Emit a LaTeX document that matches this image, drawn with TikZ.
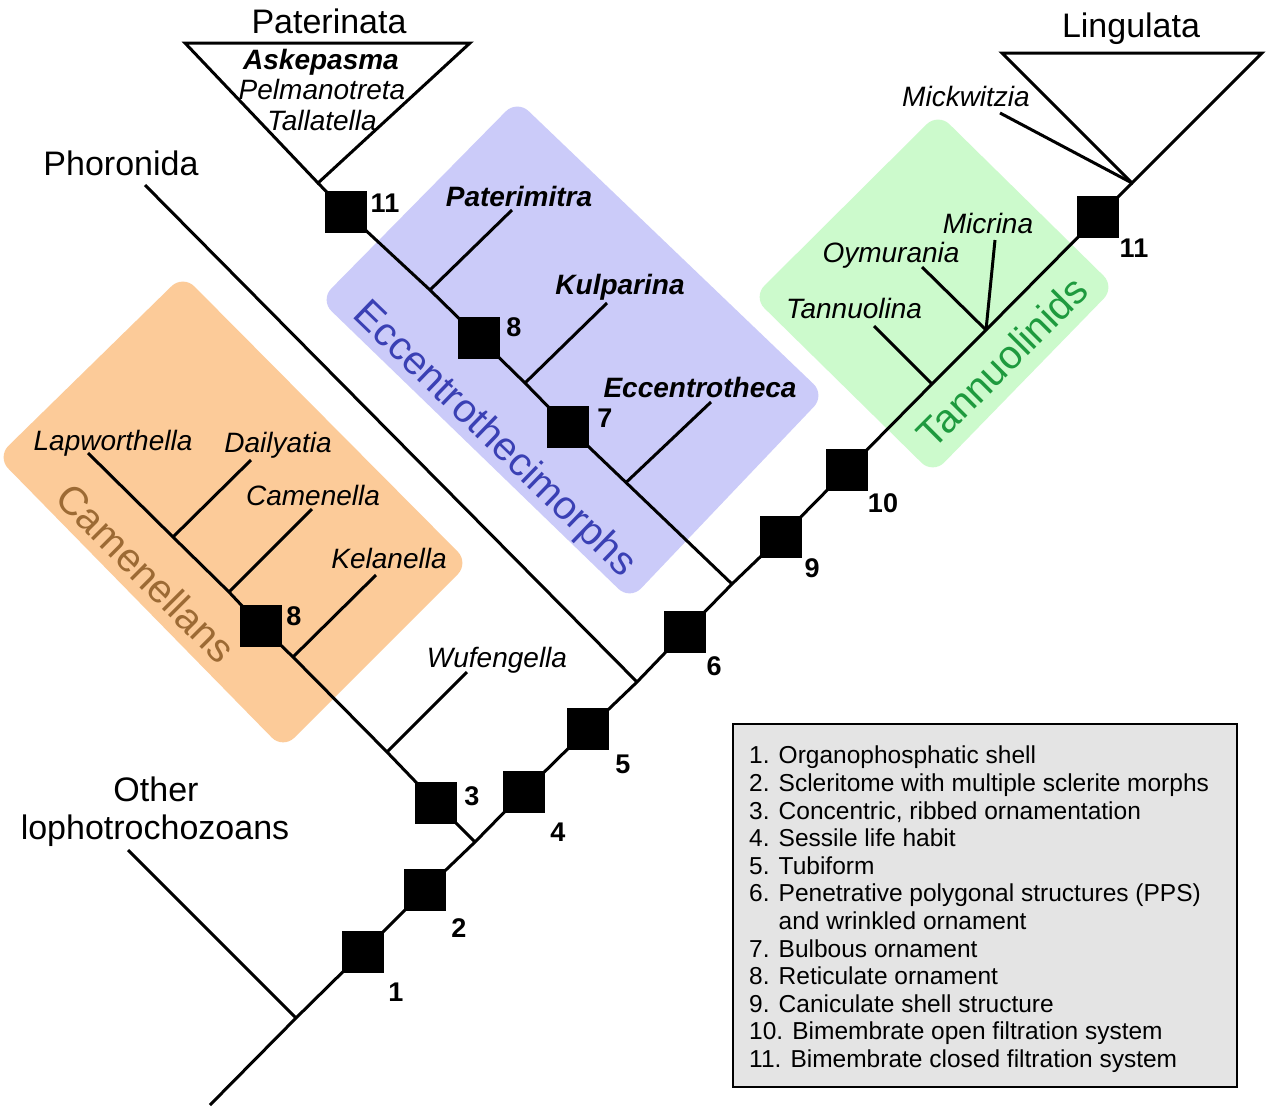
\documentclass[tikz,border=0pt]{standalone}
\usepackage{fontspec}
\setmainfont{Liberation Sans}
\definecolor{orangefill}{HTML}{FCCB99}
\definecolor{bluefill}{HTML}{CBCBF9}
\definecolor{greenfill}{HTML}{CCFACC}
\definecolor{camtext}{HTML}{9C6A34}
\definecolor{ecctext}{HTML}{3A40B4}
\definecolor{tantext}{HTML}{1E9A3E}
\definecolor{legfill}{HTML}{E4E4E4}
\begin{document}
\begin{tikzpicture}[x=1pt,y=-1pt,
  br/.style={line width=3pt},
  chr/.style={rectangle, fill=black, minimum size=42pt, inner sep=0pt, outer sep=0pt},
  num/.style={font=\fontsize{27}{27}\selectfont\bfseries, anchor=base, inner sep=0pt},
  taxon/.style={font=\fontsize{28}{28}\selectfont\itshape, anchor=base, inner sep=0pt},
  btaxon/.style={font=\fontsize{28}{28}\selectfont\bfseries\itshape, anchor=base, inner sep=0pt},
  clade/.style={font=\fontsize{34}{34}\selectfont, anchor=base, inner sep=0pt},
  grouplab/.style={font=\fontsize{40}{40}\selectfont, inner sep=0pt},
  region/.style={rounded corners=16pt}
]
\path[use as bounding box, fill=white] (0,0) rectangle (1269,1114);

% coloured regions
\fill[region, orangefill] (183,275) -- (469,563) -- (283,749) -- (-3,457) -- cycle;
\fill[region, bluefill] (517,100) -- (825,395) -- (630,600) -- (320,300) -- cycle;
\fill[region, greenfill] (938,113) -- (1115,287) -- (933,474) -- (753,297) -- cycle;

% coordinates
\coordinate (base) at (210,1105);
\coordinate (j0) at (296,1018);
\coordinate (olt) at (128,850);
\coordinate (j3) at (475,842);
\coordinate (jW) at (387,752);
\coordinate (wE) at (467,672);
\coordinate (jK) at (293,657);
\coordinate (kE) at (376,575);
\coordinate (jC) at (229,592);
\coordinate (cE) at (312,509);
\coordinate (jD) at (173,537);
\coordinate (dE) at (251,460);
\coordinate (lE) at (88,453);
\coordinate (jP) at (637,682);
\coordinate (pE) at (145,185);
\coordinate (jE) at (732,584);
\coordinate (eE) at (626,482.5);
\coordinate (eccE) at (711,402);
\coordinate (jKu) at (525,383);
\coordinate (kuE) at (607,303);
\coordinate (jPa) at (430,290);
\coordinate (paE) at (512,210);
\coordinate (apexP) at (318,183);
\coordinate (jT) at (932,384);
\coordinate (tE) at (874,326);
\coordinate (jO) at (986,330);
\coordinate (oE) at (922,267);
\coordinate (mE) at (995,240);
\coordinate (apexL) at (1132,183);
\coordinate (mkE) at (1000,113);
\coordinate (pl) at (185,43);
\coordinate (pr) at (470,43);
\coordinate (ll) at (1002,53);
\coordinate (lr) at (1262,53);

% character boxes
\node[chr] (b1) at (363,952) {};
\node[chr] (b2) at (425,890) {};
\node[chr] (b3) at (436,803) {};
\node[chr] (b4) at (524,792) {};
\node[chr] (b5) at (588,729) {};
\node[chr] (b6) at (685,632) {};
\node[chr] (b7) at (568,427) {};
\node[chr] (b8e) at (479,338) {};
\node[chr] (b8c) at (261,626) {};
\node[chr] (b9) at (781,537) {};
\node[chr] (b10) at (847,470) {};
\node[chr] (b11p) at (346,212) {};
\node[chr] (b11l) at (1098,217) {};

% branches
\draw[br] (base) -- (j0) -- (b1.center) -- (b2.center) -- (j3) -- (b4.center) -- (b5.center) -- (jP) -- (b6.center) -- (jE) -- (b9.center) -- (b10.center) -- (jT) -- (jO) -- (b11l.center) -- (apexL);
\draw[br] (j0) -- (olt);
\draw[br] (j3) -- (b3.center) -- (jW) -- (jK) -- (b8c.center) -- (jC) -- (jD) -- (lE);
\draw[br] (jW) -- (wE);
\draw[br] (jK) -- (kE);
\draw[br] (jC) -- (cE);
\draw[br] (jD) -- (dE);
\draw[br] (jP) -- (pE);
\draw[br] (jE) -- (eE) -- (b7.center) -- (jKu) -- (b8e.center) -- (jPa) -- (b11p.center) -- (apexP);
\draw[br] (eE) -- (eccE);
\draw[br] (jKu) -- (kuE);
\draw[br] (jPa) -- (paE);
\draw[br] (jT) -- (tE);
\draw[br] (jO) -- (oE);
\draw[br] (jO) -- (mE);
\draw[br] (mkE) -- (apexL);
\draw[br, line join=miter] (pl) -- (pr) -- (apexP) -- cycle;
\draw[br, line join=miter] (ll) -- (lr) -- (apexL) -- cycle;

% redraw boxes on top
\foreach \b in {b1,b2,b3,b4,b5,b6,b7,b8e,b8c,b9,b10,b11p,b11l}
  \fill (\b.north west) rectangle (\b.south east);

% numbers
\node[num] (n1) at (396,1001) {1};
\node[num] (n2) at (459,937) {2};
\node[num] (n3) at (472,805) {3};
\node[num] (n4) at (558,841) {4};
\node[num] (n5) at (623,773) {5};
\node[num] (n6) at (714,675) {6};
\node[num] (n7) at (605,427) {7};
\node[num] (n8e) at (514,336) {8};
\node[num] (n8c) at (294,625) {8};
\node[num] (n9) at (812,577) {9};
\node[num] (n10) at (883,512) {10};
\node[num] (n11p) at (385,212) {11};
\node[num] (n11l) at (1134,257) {11};

% taxa
\node[taxon] (tLap) at (113,450) {Lapworthella};
\node[taxon] (tDai) at (278,452) {Dailyatia};
\node[taxon] (tCam) at (313,505) {Camenella};
\node[taxon] (tKel) at (389,568) {Kelanella};
\node[taxon] (tWuf) at (497,667) {Wufengella};
\node[btaxon] (tPat) at (519,206) {Paterimitra};
\node[btaxon] (tKul) at (620,294) {Kulparina};
\node[btaxon] (tEcc) at (700,397) {Eccentrotheca};
\node[taxon] (tTan) at (854,318) {Tannuolina};
\node[taxon] (tOym) at (891,262) {Oymurania};
\node[taxon] (tMic) at (988,233) {Micrina};
\node[taxon] (tMck) at (966,106) {Mickwitzia};
\node[btaxon] (tAsk) at (321,69) {Askepasma};
\node[taxon] (tPel) at (322,99) {Pelmanotreta};
\node[taxon] (tTal) at (322,130) {Tallatella};

% clade names
\node[clade] (cPat) at (329,33) {Paterinata};
\node[clade] (cLin) at (1131,37) {Lingulata};
\node[clade] (cPho) at (121,175) {Phoronida};
\node[clade] (cOth1) at (156,801) {Other};
\node[clade] (cOth2) at (155,839) {lophotrochozoans};

% group labels
\node[grouplab, camtext, rotate=-45] (gCam) at (146,573) {Camenellans};
\node[grouplab, ecctext, rotate=-44] (gEcc) at (494,440) {Eccentrothecimorphs};
\node[grouplab, tantext, rotate=45] (gTan) at (1002,362) {Tannuolinids};

% legend
\node[draw, line width=2pt, fill=legfill, minimum width=504pt, minimum height=363pt, inner sep=0pt] (legend) at (985,905.5) {};
\node[anchor=north west, align=left, inner sep=0pt, font=\fontsize{24.5}{27.6}\selectfont] (legtext) at (749,746) {%
1. Organophosphatic shell\\
2. Scleritome with multiple sclerite morphs\\
3. Concentric, ribbed ornamentation\\
4. Sessile life habit\\
5. Tubiform\\
6. Penetrative polygonal structures (PPS)\\
\phantom{6. }and wrinkled ornament\\
7. Bulbous ornament\\
8. Reticulate ornament\\
9. Caniculate shell structure\\
10. Bimembrate open filtration system\\
11. Bimembrate closed filtration system};
\end{tikzpicture}
\end{document}
